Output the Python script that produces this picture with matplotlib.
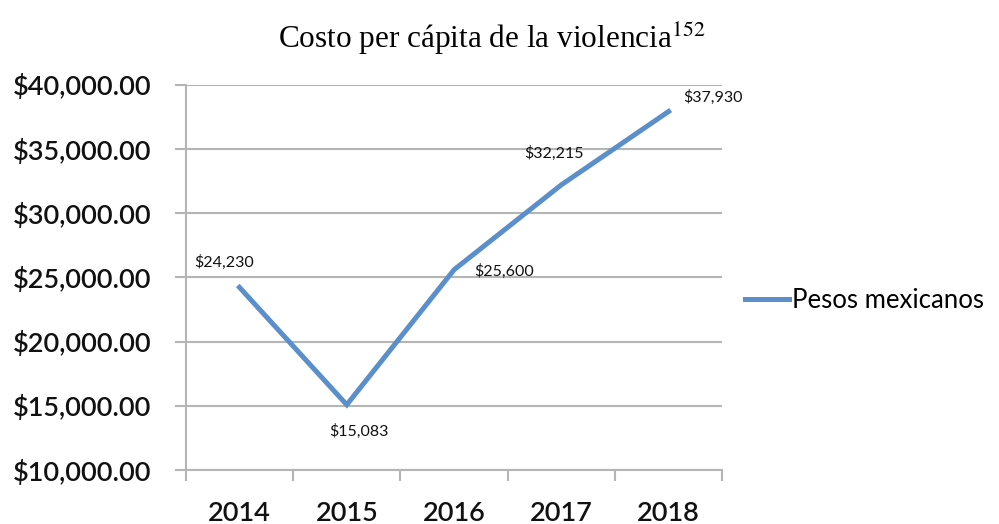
import matplotlib.pyplot as plt
from matplotlib.ticker import FuncFormatter, FixedLocator

years = ["2014", "2015", "2016", "2017", "2018"]
costo = [24230, 15083, 25600, 32215, 37930]
etiquetas = ["$24,230", "$15,083", "$25,600", "$32,215", "$37,930"]
y_ticks = [10000, 15000, 20000, 25000, 30000, 35000, 40000]

# offsets (points) for each data label, like the Excel original
label_offsets = [(-11, 18), (9, -19), (36, -1), (-5, 23), (32, 10)]

fig = plt.figure(figsize=(9.99, 5.24), dpi=100)
ax = fig.add_axes([0.186, 0.103, 0.537, 0.735])

x = list(range(len(years)))
ax.plot(x, costo, color="#5b8fcb", linewidth=3.6, label="Pesos mexicanos",
        solid_joinstyle="miter")

for xi, yi, txt, off in zip(x, costo, etiquetas, label_offsets):
    ax.annotate(txt, (xi, yi), xytext=off, textcoords="offset points",
                ha="center", va="center", fontsize=11.5, family="Lato",
                color="#111111")

ax.set_xlim(-0.5, len(years) - 0.5)
ax.set_ylim(10000, 40000)
ax.set_yticks(y_ticks)
ax.yaxis.set_major_formatter(FuncFormatter(lambda v, p: f"${v:,.2f}"))
ax.set_xticks(x)
ax.set_xticklabels(years)
ax.xaxis.set_minor_locator(FixedLocator([i - 0.5 for i in range(len(years) + 1)]))

ax.grid(axis="y", color="#b5b5b5", linewidth=1.5)
ax.set_axisbelow(True)
for s in ["top", "right"]:
    ax.spines[s].set_visible(False)
for s in ["left", "bottom"]:
    ax.spines[s].set_color("#b5b5b5")
    ax.spines[s].set_linewidth(1.5)

ax.tick_params(axis="y", length=8, width=1.5, color="#b5b5b5", pad=17,
               labelsize=19.5)
ax.tick_params(axis="x", which="major", length=0, pad=22, labelsize=19.5)
ax.tick_params(axis="x", which="minor", length=8, width=1.5, color="#b5b5b5")
for lab in ax.get_yticklabels() + ax.get_xticklabels():
    lab.set_family("Lato")
    lab.set_weight("semibold")
    lab.set_color("#111111")

fig.text(0.492, 0.925, r"Costo per cápita de la violencia$^{152}$",
         ha="center", va="center", fontsize=22.5, family="Liberation Serif",
         math_fontfamily="stix")

leg = ax.legend(loc="center left", bbox_to_anchor=(1.0, 0.44), frameon=False,
                prop={"family": "Lato", "size": 18.5}, handlelength=1.7,
                handletextpad=0.1)

fig.savefig("out.png", dpi=100)
